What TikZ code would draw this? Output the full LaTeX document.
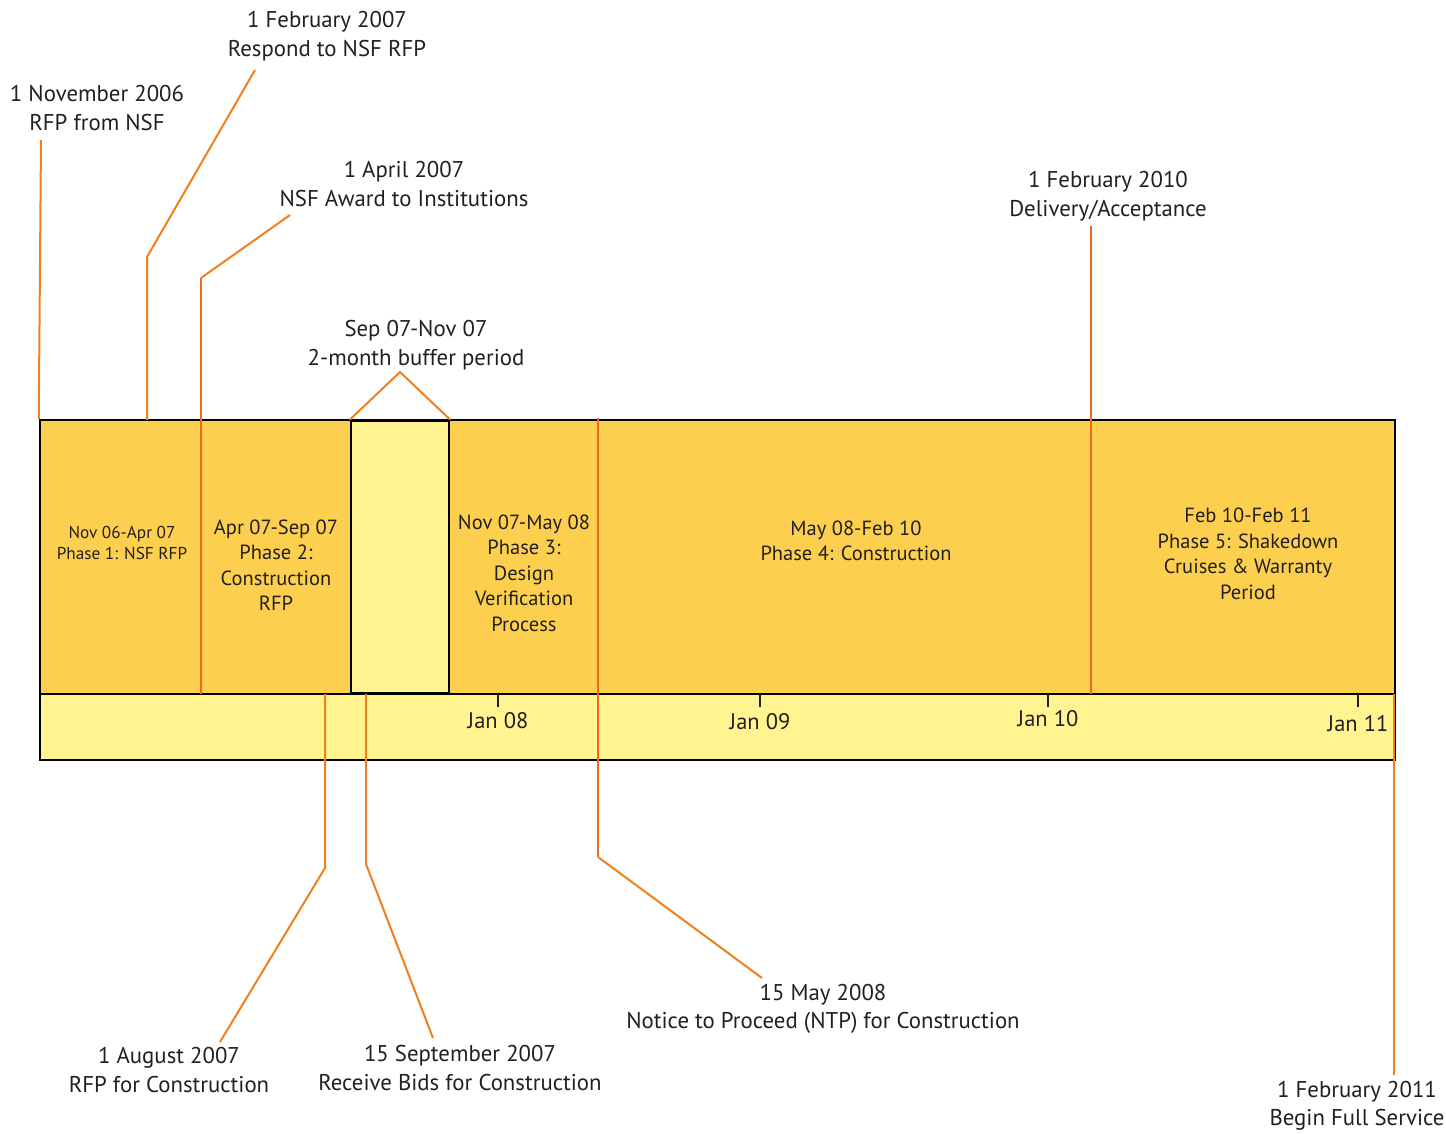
\documentclass[tikz,border=0pt]{standalone}
\usepackage{fontspec}
\setmainfont{PT Sans}
\usetikzlibrary{positioning}
\definecolor{phasefill}{HTML}{FDCF4F}
\definecolor{bufferfill}{HTML}{FFF48F}
\definecolor{markline}{HTML}{F07F1E}
\definecolor{divline}{HTML}{EE6A1A}
\definecolor{textgrey}{HTML}{231F20}

\tikzset{
  band/.style={draw=black, inner sep=0pt, line width=2.5pt},
  callout/.style={draw=markline, line width=2pt},
  divider/.style={draw=divline, line width=2.2pt},
  datelabel/.style={align=center, font=\fontsize{22.8}{28.5}\selectfont, text=textgrey, inner sep=0pt},
  phaselabel/.style={align=center, font=\fontsize{20.5}{25.5}\selectfont, text=textgrey, inner sep=0pt},
  yearlabel/.style={font=\fontsize{22.5}{25}\selectfont, text=textgrey, inner sep=0pt},
}

\begin{document}
\begin{tikzpicture}[x=1pt,y=-1pt]
  \useasboundingbox (0,0) rectangle (1446,1133);

  % timeline bands
  \node[band, fill=bufferfill, line width=2pt, minimum width=1355pt, minimum height=66pt] (yearband) at (717.5,727) {};
  \node[band, fill=phasefill, minimum width=1355pt, minimum height=274pt] (phaseband) at (717.5,557) {};
  \node[band, fill=bufferfill, minimum width=98pt, minimum height=272pt] (buffer) at (400,557) {};

  % year ticks
  \foreach \x/\yr/\ly in {498/Jan 08/721, 760/Jan 09/722, 1048/Jan 10/719, 1358/Jan 11/724} {
    \draw[line width=2pt, textgrey] (\x,694) -- (\x,707);
    \node[yearlabel] at (\x,\ly) {\yr};
  }

  % phases
  \node[phaselabel, font=\fontsize{17.2}{21}\selectfont] (phase1) at (122,543) {Nov 06-Apr 07\\Phase 1: NSF RFP};
  \node[phaselabel] (phase2) at (276,565) {Apr 07-Sep 07\\Phase 2:\\Construction\\RFP};
  \node[phaselabel] (phase3) at (524,573) {Nov 07-May 08\\Phase 3:\\Design\\Verification\\Process};
  \node[phaselabel] (phase4) at (856,541) {May 08-Feb 10\\Phase 4: Construction};
  \node[phaselabel] (phase5) at (1248,554) {Feb 10-Feb 11\\Phase 5: Shakedown\\Cruises \& Warranty\\Period};

  % milestones above
  \node[datelabel] (nov06) at (97,108) {1 November 2006\\RFP from NSF};
  \node[datelabel] (feb07) at (327,36) {1 February 2007\\Respond to NSF RFP};
  \node[datelabel] (apr07) at (404,184) {1 April 2007\\NSF Award to Institutions};
  \node[datelabel] (sepnov) at (416,345) {Sep 07-Nov 07\\2-month buffer period};
  \node[datelabel] (feb10) at (1108,196) {1 February 2010\\Delivery/Acceptance};

  % milestones below
  \node[datelabel] (aug07) at (169,1070) {1 August 2007\\RFP for Construction};
  \node[datelabel] (sep07) at (460,1068) {15 September 2007\\Receive Bids for Construction};
  \node[datelabel] (may08) at (823,1009) {15 May 2008\\Notice to Proceed (NTP) for Construction};
  \node[datelabel] (feb11) at (1357,1106) {1 February 2011\\Begin Full Service};

  % callout lines
  \coordinate (nov06tip) at (41,140);
  \coordinate (feb07tip) at (255,70);
  \coordinate (feb07bend) at (147,257);
  \coordinate (feb07foot) at (147,420);
  \coordinate (apr07tip) at (290,215);
  \coordinate (apr07bend) at (201,278);
  \coordinate (apr07foot) at (201,694);
  \coordinate (sepnovapex) at (400,372);
  \coordinate (feb10tip) at (1091,226);
  \coordinate (feb10foot) at (1091,694);
  \coordinate (aug07top) at (325,694);
  \coordinate (aug07bend) at (325,868);
  \coordinate (aug07tip) at (220,1042);
  \coordinate (sep07top) at (366,694);
  \coordinate (sep07bend) at (366,864);
  \coordinate (sep07tip) at (433,1038);
  \coordinate (may08top) at (598,418);
  \coordinate (may08bend) at (598,857);
  \coordinate (may08tip) at (762,978);
  \coordinate (feb11top) at (1394,694);
  \coordinate (feb11tip) at (1394,1075);

  \draw[callout] (nov06tip) -- (phaseband.north west);
  \draw[callout] (feb07tip) -- (feb07bend) -- (feb07foot);
  \draw[callout] (apr07tip) -- (apr07bend);
  \draw[divider] (apr07bend) -- (apr07foot);
  \draw[callout, line join=miter] (buffer.north west) -- (sepnovapex) -- (buffer.north east);
  \draw[divider] (feb10tip) -- (feb10foot);
  \draw[callout] (aug07top) -- (aug07bend) -- (aug07tip);
  \draw[callout] (sep07top) -- (sep07bend) -- (sep07tip);
  \draw[divider] (may08top) -- (may08bend);
  \draw[callout] (may08bend) -- (may08tip);
  \draw[callout] (feb11top) -- (feb11tip);
\end{tikzpicture}
\end{document}
